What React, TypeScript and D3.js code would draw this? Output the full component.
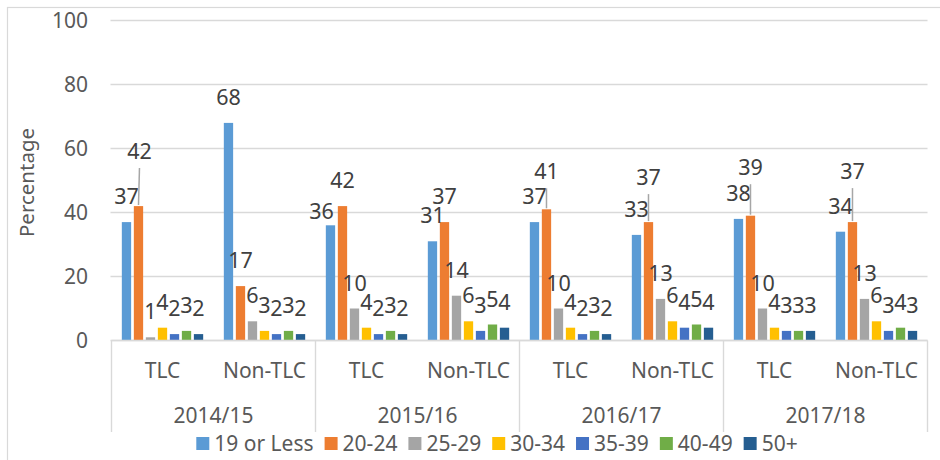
import React, { useEffect, useRef } from 'react';
import * as d3 from 'd3';

const years = ['2014/15', '2015/16', '2016/17', '2017/18'];
const groups = ['TLC', 'Non-TLC'];
const ageBands = ['19 or Less', '20-24', '25-29', '30-34', '35-39', '40-49', '50+'];
const bandColors = ['#5B9BD5', '#ED7D31', '#A5A5A5', '#FFC000', '#4472C4', '#70AD47', '#255E91'];

// one value per category, order: 14/15 TLC, 14/15 Non-TLC, 15/16 TLC, ...
const age19orLess = [37, 68, 36, 31, 37, 33, 38, 34];
const age20to24 = [42, 17, 42, 37, 41, 37, 39, 37];
const age25to29 = [1, 6, 10, 14, 10, 13, 10, 13];
const age30to34 = [4, 3, 4, 6, 4, 6, 4, 6];
const age35to39 = [2, 2, 2, 3, 2, 4, 3, 3];
const age40to49 = [3, 3, 3, 5, 3, 5, 3, 4];
const age50plus = [2, 2, 2, 4, 2, 4, 3, 3];
const yTicks = [0, 20, 40, 60, 80, 100];

const series = [age19orLess, age20to24, age25to29, age30to34, age35to39, age40to49, age50plus];

// labels that were dragged off their default spot in the original chart
const labelNudges: Record<string, { dx: number; dy: number; leader?: boolean }> = {
  '0-1': { dx: 1, dy: -29.5, leader: true },
  '2-0': { dx: -9, dy: 11.5 },
  '4-1': { dx: 0, dy: -12.5, leader: true },
  '5-1': { dx: 0, dy: -19.5, leader: true },
  '6-1': { dx: 0, dy: -23, leader: true },
  '7-1': { dx: 0, dy: -25.5, leader: true },
};

const FONT = '"Noto Sans", "Open Sans", sans-serif';

const App: React.FC = () => {
  const svgRef = useRef<SVGSVGElement>(null);

  useEffect(() => {
    if (!svgRef.current) return;
    const width = 940;
    const height = 460;
    const margin = { top: 20.5, right: 12.5, bottom: 119.5, left: 111.5 };

    const svg = d3.select(svgRef.current);
    svg.selectAll('*').remove();

    const categories = years.flatMap((yr) => groups.map((g) => `${yr}|${g}`));

    const x0 = d3.scaleBand<string>()
      .domain(categories)
      .range([margin.left, width - margin.right])
      .padding(0);
    const x1 = d3.scaleBand<string>()
      .domain(ageBands)
      .range([0, x0.bandwidth()])
      .paddingInner(0.225)
      .paddingOuter(0.86);
    const y = d3.scaleLinear().domain([0, 100]).range([height - margin.bottom, margin.top]);
    const yearBand = d3.scaleBand<string>()
      .domain(years)
      .range([margin.left, width - margin.right])
      .padding(0);

    // chart border
    svg.append('rect')
      .attr('x', 7.5).attr('y', 7.5)
      .attr('width', width).attr('height', height)
      .attr('fill', 'none').attr('stroke', '#d9d9d9').attr('stroke-width', 1.2);

    // gridlines
    svg.append('g').selectAll('line')
      .data(yTicks)
      .join('line')
      .attr('x1', margin.left - 1).attr('x2', width - margin.right)
      .attr('y1', (d) => y(d)).attr('y2', (d) => y(d))
      .attr('stroke', '#d9d9d9').attr('stroke-width', 1.4);

    svg.append('g').selectAll('text')
      .data(yTicks)
      .join('text')
      .attr('x', 88).attr('y', (d) => y(d))
      .attr('dy', '0.36em')
      .attr('text-anchor', 'end')
      .attr('font-family', FONT).attr('font-size', 21)
      .attr('fill', '#595959')
      .text((d) => d);

    svg.append('text')
      .attr('transform', `translate(34,${(y(0) + y(100)) / 2 + 2}) rotate(-90)`)
      .attr('text-anchor', 'middle')
      .attr('font-family', FONT).attr('font-size', 20.5)
      .attr('fill', '#595959')
      .text('Percentage');

    // bars
    const gBars = svg.append('g');
    categories.forEach((cat, ci) => {
      const gx = x0(cat)!;
      series.forEach((vals, si) => {
        const v = vals[ci];
        gBars.append('rect')
          .attr('x', gx + x1(ageBands[si])!)
          .attr('y', y(v))
          .attr('width', x1.bandwidth())
          .attr('height', y(0) - y(v))
          .attr('fill', bandColors[si]);
      });
    });

    // data labels
    const gLabels = svg.append('g');
    categories.forEach((cat, ci) => {
      const gx = x0(cat)!;
      series.forEach((vals, si) => {
        const v = vals[ci];
        const cx = gx + x1(ageBands[si])! + x1.bandwidth() / 2;
        const top = y(v);
        const nudge = labelNudges[`${ci}-${si}`] || { dx: 0, dy: 0 };
        const ly = top - 25.5 + nudge.dy;
        if (nudge.leader) {
          gLabels.append('line')
            .attr('x1', cx + nudge.dx).attr('y1', ly + 17)
            .attr('x2', cx).attr('y2', top - 1)
            .attr('stroke', '#a6a6a6').attr('stroke-width', 1.5);
        }
        gLabels.append('text')
          .attr('x', cx + nudge.dx)
          .attr('y', ly + 7.5)
          .attr('text-anchor', 'middle')
          .attr('font-family', FONT).attr('font-size', 21.5)
          .attr('fill', '#404040')
          .text(v);
      });
    });

    // multi-level category axis
    const axisTop = y(0);
    const axisBottom = 432;
    svg.append('line')
      .attr('x1', margin.left).attr('x2', width - margin.right)
      .attr('y1', axisTop).attr('y2', axisTop)
      .attr('stroke', '#d9d9d9').attr('stroke-width', 1.4);
    const seps = years.map((yr) => yearBand(yr)!).concat([width - margin.right]);
    svg.append('g').selectAll('line')
      .data(seps)
      .join('line')
      .attr('x1', (d) => d).attr('x2', (d) => d)
      .attr('y1', axisTop).attr('y2', axisBottom)
      .attr('stroke', '#d9d9d9').attr('stroke-width', 1.4);

    svg.append('g').selectAll('text')
      .data(categories)
      .join('text')
      .attr('x', (d) => x0(d)! + x0.bandwidth() / 2)
      .attr('y', 378)
      .attr('text-anchor', 'middle')
      .attr('font-family', FONT).attr('font-size', 21)
      .attr('fill', '#595959')
      .text((d) => d.split('|')[1]);

    svg.append('g').selectAll('text')
      .data(years)
      .join('text')
      .attr('x', (d) => yearBand(d)! + yearBand.bandwidth() / 2)
      .attr('y', 423)
      .attr('text-anchor', 'middle')
      .attr('font-family', FONT).attr('font-size', 21)
      .attr('fill', '#595959')
      .text((d) => d);

    // legend, centred under the plot
    const gLegend = svg.append('g');
    const swatch = 13;
    let cursor = 0;
    ageBands.forEach((name, i) => {
      const item = gLegend.append('g').attr('transform', `translate(${cursor},0)`);
      item.append('rect')
        .attr('x', 0).attr('y', 437)
        .attr('width', swatch).attr('height', swatch)
        .attr('fill', bandColors[i]);
      const t = item.append('text')
        .attr('x', swatch + 5).attr('y', 450.5)
        .attr('font-family', FONT).attr('font-size', 21)
        .attr('fill', '#595959')
        .text(name);
      const w = (t.node() as SVGTextElement).getComputedTextLength();
      cursor += swatch + 5 + w + 11;
    });
    const legendWidth = cursor - 11;
    gLegend.attr('transform', `translate(${497 - legendWidth / 2},0)`);
  }, []);

  return (
    <svg
      ref={svgRef}
      width={940}
      height={460}
      style={{ position: 'absolute', left: 0, top: 0, background: '#fff' }}
    />
  );
};

export default App;
